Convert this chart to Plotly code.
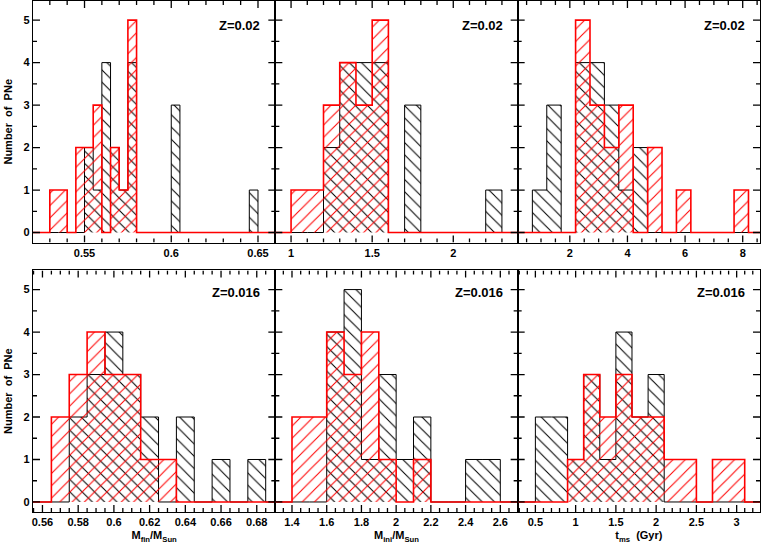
import numpy as np
import plotly.graph_objects as go

# ---------------- data (bin counts) ----------------
# Panel 1: final mass, Z=0.02 (bins of 0.005 starting at 0.530)
mfin02_start, mfin02_width = 0.530, 0.005
mfin02_red = [1, 1, 0, 2, 2, 3, 0, 2, 1, 5]
mfin02_black = [0, 0, 0, 0, 2, 1, 4, 2, 1, 4, 0, 0, 0, 0, 3, 0, 0, 0, 0, 0, 0, 0, 0, 1]

# Panel 2: initial mass, Z=0.02 (bins of 0.1 starting at 1.0)
mini02_start, mini02_width = 1.0, 0.1
mini02_red = [1, 1, 3, 4, 3, 5]
mini02_black = [0, 0, 2, 4, 4, 4, 0, 3, 0, 0, 0, 0, 1]

# Panel 3: main-sequence lifetime, Z=0.02 (bins of 0.5 Gyr starting at 0.7)
tms02_start, tms02_width = 0.7, 0.5
tms02_red = [0, 0, 0, 5, 3, 2, 3, 0, 2, 0, 1, 0, 0, 0, 1]
tms02_black = [1, 3, 0, 4, 4, 3, 1, 2]

# Panel 4: final mass, Z=0.016 (bins of 0.01 starting at 0.565)
mfin016_start, mfin016_width = 0.565, 0.01
mfin016_red = [2, 3, 4, 3, 3, 1, 1]
mfin016_black = [0, 2, 3, 4, 3, 2, 0, 2, 0, 1, 0, 1]

# Panel 5: initial mass, Z=0.016 (bins of 0.1 starting at 1.4)
mini016_start, mini016_width = 1.4, 0.1
mini016_red = [2, 2, 4, 3, 4, 1, 0, 1]
mini016_black = [0, 0, 4, 5, 1, 3, 1, 2, 0, 0, 1, 1]

# Panel 6: main-sequence lifetime, Z=0.016 (bins of 0.2 Gyr starting at 0.5)
tms016_start, tms016_width = 0.5, 0.2
tms016_red = [0, 0, 1, 3, 2, 3, 2, 2, 1, 1, 0, 1, 1]
tms016_black = [2, 2, 1, 3, 1, 4, 2, 3]

z_labels = ["Z=0.02", "Z=0.02", "Z=0.02", "Z=0.016", "Z=0.016", "Z=0.016"]
x_titles = ["M<sub>fin</sub>/M<sub>Sun</sub>", "M<sub>ini</sub>/M<sub>Sun</sub>", "t<sub>ms</sub>  (Gyr)"]
y_title = "Number  of  PNe"

panels = [
    dict(start=mfin02_start, width=mfin02_width, red=mfin02_red, black=mfin02_black,
         xr=[0.5203, 0.660], dtick=0.05, minor=0.01),
    dict(start=mini02_start, width=mini02_width, red=mini02_red, black=mini02_black,
         xr=[0.903, 2.397], dtick=0.5, minor=0.1),
    dict(start=tms02_start, width=tms02_width, red=tms02_red, black=tms02_black,
         xr=[0.19, 8.6], dtick=2, minor=0.5),
    dict(start=mfin016_start, width=mfin016_width, red=mfin016_red, black=mfin016_black,
         xr=[0.5547, 0.6904], dtick=0.02, minor=0.005),
    dict(start=mini016_start, width=mini016_width, red=mini016_red, black=mini016_black,
         xr=[1.304, 2.70], dtick=0.2, minor=0.05),
    dict(start=tms016_start, width=tms016_width, red=tms016_red, black=tms016_black,
         xr=[0.28, 3.29], dtick=0.5, minor=0.1),
]

YR = [-0.236, 5.45]
Y_DTICK, Y_MINOR = 1, 0.5
MAJOR_LEN, MINOR_LEN = 7, 4

W, H = 761, 545
M = dict(l=33, r=1, t=1, b=33)
col_dom = [[0, 1 / 3], [1 / 3, 2 / 3], [2 / 3, 1]]
row_dom = [[0.5273, 1.0], [0.0, 0.4727]]
PANEL_W = (W - M["l"] - M["r"]) / 3
PANEL_H = (H - M["t"] - M["b"]) * 0.4727

fig = go.Figure()


def step_xy(start, width, counts, xr):
    edges = [start + width * i for i in range(len(counts) + 1)]
    xs = [xr[0]] + edges + [xr[1]]
    ys = [0] + list(counts) + [0, 0]
    return xs, ys


def tick_values(rng, major, minor):
    k0 = int(np.ceil(rng[0] / minor - 1e-6))
    k1 = int(np.floor(rng[1] / minor + 1e-6))
    out = []
    for k in range(k0, k1 + 1):
        v = k * minor
        out.append((v, abs(v / major - round(v / major)) < 1e-6))
    return out


def tick_segments(ax, xr, major, minor):
    """Inside tick marks on all four frame sides as short line segments."""
    pxu_x = PANEL_W / (xr[1] - xr[0])
    pxu_y = PANEL_H / (YR[1] - YR[0])
    xs, ys = [], []
    for v, maj in tick_values(xr, major, minor):
        L = (MAJOR_LEN if maj else MINOR_LEN) / pxu_y
        xs += [v, v, None, v, v, None]
        ys += [YR[0], YR[0] + L, None, YR[1], YR[1] - L, None]
    for v, maj in tick_values(YR, Y_DTICK, Y_MINOR):
        L = (MAJOR_LEN if maj else MINOR_LEN) / pxu_x
        xs += [xr[0], xr[0] + L, None, xr[1], xr[1] - L, None]
        ys += [v, v, None, v, v, None]
    fig.add_trace(go.Scatter(
        x=xs, y=ys, mode="lines", line=dict(color="black", width=1.3),
        connectgaps=False, cliponaxis=False,
        xaxis="x" + ax, yaxis="y" + ax, showlegend=False, hoverinfo="skip"))


for i, p in enumerate(panels):
    r, c = divmod(i, 3)
    ax = "" if i == 0 else str(i + 1)
    for key, color, shape, lw in [("black", "black", "\\", 1.0), ("red", "#ff0000", "/", 1.6)]:
        xs, ys = step_xy(p["start"], p["width"], p[key], p["xr"])
        fig.add_trace(go.Scatter(
            x=xs, y=ys, mode="lines", line=dict(color=color, width=lw, shape="hv"),
            fill="tozeroy", fillcolor="rgba(0,0,0,0)",
            fillpattern=dict(shape=shape, fgcolor=color, bgcolor="rgba(0,0,0,0)",
                             size=8.7, solidity=0.12),
            xaxis="x" + ax, yaxis="y" + ax, showlegend=False, hoverinfo="skip"))
    tick_segments(ax, p["xr"], p["dtick"], p["minor"])

    xa = dict(domain=col_dom[c], range=p["xr"], anchor="y" + ax,
              showline=True, linecolor="black", linewidth=1.2, mirror=True,
              ticks="", tickmode="linear", dtick=p["dtick"], tick0=0,
              showgrid=False, zeroline=False, tickfont=dict(size=11))
    if r == 1:
        xa["title"] = dict(text=x_titles[c], font=dict(size=11), standoff=4)
    ya = dict(domain=row_dom[r], range=YR, anchor="x" + ax,
              showline=True, linecolor="black", linewidth=1.2, mirror=True,
              ticks="", tickmode="linear", dtick=Y_DTICK, tick0=0,
              showgrid=False, zeroline=False,
              showticklabels=(c == 0), tickfont=dict(size=11))
    if c == 0:
        ya["title"] = dict(text=y_title, font=dict(size=11), standoff=8)
    fig.layout["xaxis" + ax] = xa
    fig.layout["yaxis" + ax] = ya
    fig.add_annotation(text=z_labels[i], xref="x" + ax + " domain", yref="y" + ax + " domain",
                       x=1, y=1, xanchor="right", yanchor="middle", xshift=-13,
                       yshift=(-24 if r == 0 else -22),
                       showarrow=False, font=dict(size=13))

fig.update_layout(
    template="none",
    width=W, height=H,
    margin=M,
    paper_bgcolor="white", plot_bgcolor="white",
    font=dict(family="Liberation Sans", size=11, color="black", weight="bold"),
)

fig.write_html("out.html", post_script="document.body.style.margin='0';",
               config={"displayModeBar": False})
